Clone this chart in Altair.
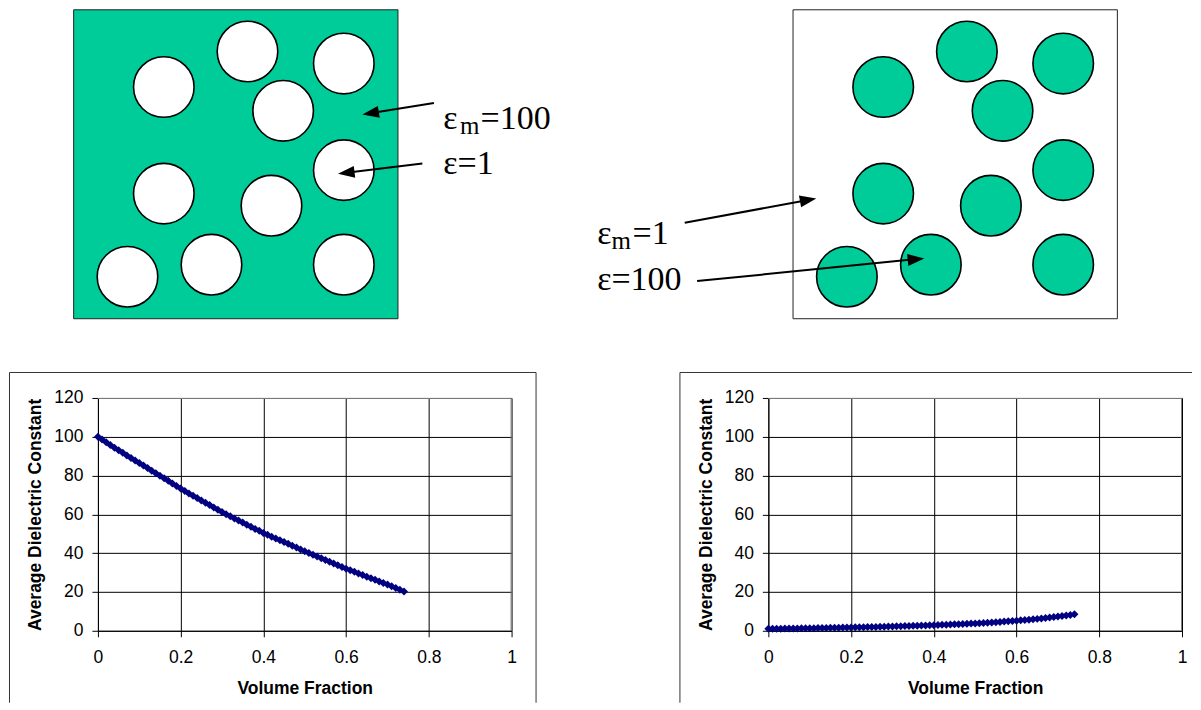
import math
import altair as alt
import pandas as pd

# ---------------- data ----------------
volume_fraction = [
    0.00, 0.01, 0.02, 0.03, 0.04, 0.05, 0.06, 0.07, 0.08, 0.09,
    0.10, 0.11, 0.12, 0.13, 0.14, 0.15, 0.16, 0.17, 0.18, 0.19,
    0.20, 0.21, 0.22, 0.23, 0.24, 0.25, 0.26, 0.27, 0.28, 0.29,
    0.30, 0.31, 0.32, 0.33, 0.34, 0.35, 0.36, 0.37, 0.38, 0.39,
    0.40, 0.41, 0.42, 0.43, 0.44, 0.45, 0.46, 0.47, 0.48, 0.49,
    0.50, 0.51, 0.52, 0.53, 0.54, 0.55, 0.56, 0.57, 0.58, 0.59,
    0.60, 0.61, 0.62, 0.63, 0.64, 0.65, 0.66, 0.67, 0.68, 0.69,
    0.70, 0.71, 0.72, 0.73, 0.74,
]

# matrix eps = 100, inclusions eps = 1
eps_avg_matrix100 = [
    100.0, 98.6, 97.2, 95.8, 94.4, 93.1, 91.7, 90.4, 89.1, 87.8,
    86.5, 85.2, 83.9, 82.5, 81.2, 79.9, 78.6, 77.3, 75.9, 74.6,
    73.3, 72.1, 70.8, 69.6, 68.4, 67.2, 66.0, 64.8, 63.6, 62.4,
    61.2, 60.1, 59.0, 57.9, 56.9, 55.8, 54.7, 53.6, 52.5, 51.5,
    50.4, 49.5, 48.5, 47.6, 46.6, 45.7, 44.8, 43.8, 42.9, 41.9,
    41.0, 40.1, 39.2, 38.3, 37.4, 36.5, 35.6, 34.7, 33.8, 32.9,
    32.0, 31.2, 30.4, 29.5, 28.7, 27.9, 27.1, 26.3, 25.4, 24.6,
    23.8, 22.9, 22.0, 21.1, 20.2,
]

# matrix eps = 1, inclusions eps = 100
eps_avg_matrix1 = [
    1.00, 1.03, 1.06, 1.09, 1.12, 1.15, 1.18, 1.22, 1.25, 1.29,
    1.33, 1.36, 1.40, 1.44, 1.48, 1.52, 1.56, 1.60, 1.64, 1.68,
    1.72, 1.76, 1.80, 1.85, 1.90, 1.95, 2.00, 2.05, 2.11, 2.17,
    2.23, 2.29, 2.35, 2.42, 2.49, 2.56, 2.63, 2.70, 2.77, 2.84,
    2.90, 2.98, 3.06, 3.14, 3.23, 3.32, 3.41, 3.50, 3.60, 3.70,
    3.80, 3.92, 4.04, 4.16, 4.29, 4.43, 4.57, 4.72, 4.87, 5.03,
    5.20, 5.37, 5.55, 5.74, 5.93, 6.13, 6.34, 6.56, 6.79, 7.04,
    7.30, 7.57, 7.86, 8.17, 8.50,
]

x_ticks = [0, 0.2, 0.4, 0.6, 0.8, 1]
y_ticks = [0, 20, 40, 60, 80, 100, 120]
x_title = "Volume Fraction"
y_title = "Average Dielectric Constant"

# inclusion centres inside each square (fraction of square width / height, y downward)
inclusion_u = [0.278, 0.536, 0.833, 0.646, 0.833, 0.278, 0.610, 0.833, 0.425, 0.166]
inclusion_v = [0.250, 0.135, 0.174, 0.327, 0.519, 0.595, 0.634, 0.825, 0.825, 0.864]

GREEN = "#00CC99"
NAVY = "#000080"

# ---------------- layout (page pixels) ----------------
C1X, C2X = 97, 768          # left edge of the two columns
R1Y, R2Y = 8, 397           # top edge of the two rows
W, H1, H2, SP = 414, 132, 233, 257
SQ_W = 324.6
SQ_TOP, SQ_BOT = 8.5, 317.7
CIRCLE_SIZE = 3672          # symbol size (diameter ~60.6px)


def one():
    return alt.Data(values=[{"k": 0}])


def hrule(cx, cy, x1, x2, y, color="#333333", sw=1):
    return alt.Chart(one()).mark_rule(color=color, strokeWidth=sw).encode(
        x=alt.value(x1 - cx), x2=alt.value(x2 - cx), y=alt.value(y - cy))


def vrule(cx, cy, x, y1, y2, color="#333333", sw=1):
    return alt.Chart(one()).mark_rule(color=color, strokeWidth=sw).encode(
        x=alt.value(x - cx), y=alt.value(y1 - cy), y2=alt.value(y2 - cy))


def arrow(cx, cy, tail, tip, r=8.3):
    dx, dy = tip[0] - tail[0], tip[1] - tail[1]
    L = math.hypot(dx, dy)
    ux, uy = dx / L, dy / L
    ang = math.degrees(math.atan2(ux, -uy)) % 360
    hx, hy = tip[0] - r * ux, tip[1] - r * uy
    ex, ey = tip[0] - 1.5 * r * ux, tip[1] - 1.5 * r * uy
    line = alt.Chart(one()).mark_rule(color="black", strokeWidth=2).encode(
        x=alt.value(tail[0] - cx), y=alt.value(tail[1] - cy),
        x2=alt.value(ex - cx), y2=alt.value(ey - cy))
    head = alt.Chart(one()).mark_point(
        shape="M0,-1L0.72,1L-0.72,1Z", filled=True, fill="black", strokeWidth=0,
        size=(2 * r) ** 2, angle=ang, opacity=1).encode(
        x=alt.value(hx - cx), y=alt.value(hy - cy))
    return [line, head]


def label(cx, cy, txt, x, y, size=34):
    return alt.Chart(one()).mark_text(
        text=txt, font="Liberation Serif", fontSize=size, align="left",
        baseline="alphabetic", color="black").encode(
        x=alt.value(x - cx), y=alt.value(y - cy))


incl_df = pd.DataFrame({"u": inclusion_u, "v": inclusion_v})


def diagram(cx, sq_left, bg, fg, extras):
    xs = alt.Scale(domain=[0, 1], range=[sq_left - cx, sq_left + SQ_W - cx])
    ys = alt.Scale(domain=[0, 1], range=[SQ_TOP - R1Y, SQ_BOT - R1Y])
    square = alt.Chart(alt.Data(values=[{"a": 0, "b": 1}])).mark_rect(
        fill=bg, stroke="#222222", strokeWidth=1).encode(
        x=alt.X("a:Q", scale=xs, axis=None), x2="b:Q",
        y=alt.Y("a:Q", scale=ys, axis=None), y2="b:Q")
    circles = alt.Chart(incl_df).mark_circle(
        fill=fg, stroke="black", strokeWidth=1.6, size=CIRCLE_SIZE,
        opacity=1, fillOpacity=1).encode(
        x=alt.X("u:Q", scale=xs, axis=None),
        y=alt.Y("v:Q", scale=ys, axis=None))
    return alt.layer(square, circles, *extras).properties(width=W, height=H1)


# top-left diagram: green matrix (eps_m = 100), white inclusions (eps = 1)
tl_extras = []
tl_extras += arrow(C1X, R1Y, (433.3, 101.7), (361.7, 113.3))
tl_extras += arrow(C1X, R1Y, (421.7, 162.3), (337.3, 172.7))
tl_extras += [
    label(C1X, R1Y, "ε", 442.7, 128.3),
    label(C1X, R1Y, "m", 459.5, 132.7, 25),
    label(C1X, R1Y, "=100", 480, 128.3),
    label(C1X, R1Y, "ε=1", 442.7, 173.3),
]
TL = diagram(C1X, 72.7, GREEN, "white", tl_extras)

# top-right diagram: white matrix (eps_m = 1), green inclusions (eps = 100)
tr_extras = []
tr_extras += arrow(C2X, R1Y, (684.3, 221.7), (816, 197.3))
tr_extras += [
    label(C2X, R1Y, "ε", 596.7, 243.3),
    label(C2X, R1Y, "m", 611, 247.7, 25),
    label(C2X, R1Y, "=1", 632, 243.3),
    label(C2X, R1Y, "ε=100", 596.7, 289.3),
]
TR = diagram(C2X, 792.7, "white", GREEN, [])
TR = alt.layer(TR, *tr_extras, *arrow(C2X, R1Y, (696.7, 280), (924, 257.3))).properties(width=W, height=H1)


def scatter(cx, values, box):
    df = pd.DataFrame({"vf": volume_fraction, "eps": values})
    pts = alt.Chart(df).mark_point(
        shape="diamond", filled=True, color=NAVY, size=64, opacity=1).encode(
        x=alt.X("vf:Q", scale=alt.Scale(domain=[0, 1], nice=False, zero=False),
                axis=alt.Axis(values=x_ticks, format="~g", title=x_title,
                              labelFlush=False, labelOverlap=False,
                              labelBaseline="alphabetic",
                              labelPadding=25.7, titleBaseline="alphabetic",
                              titleY=62.7)),
        y=alt.Y("eps:Q", scale=alt.Scale(domain=[0, 120], nice=False),
                axis=alt.Axis(values=y_ticks, title=y_title, labelPadding=9,
                              labelOverlap=False, labelFlush=False,
                              titleX=-62, titleY=H2 / 2, titleBaseline="middle")))
    # grey plot-area frame on the top and right edges
    top_edge = alt.Chart(one()).mark_rule(color="#808080", strokeWidth=1).encode(
        x=alt.value(0), x2=alt.value(W), y=alt.value(0.5))
    right_edge = alt.Chart(one()).mark_rule(color="#808080", strokeWidth=1).encode(
        x=alt.value(W - 0.5), y=alt.value(0), y2=alt.value(H2))
    return alt.layer(pts, top_edge, right_edge, *box).properties(width=W, height=H2)


bl_box = [
    vrule(C1X, R2Y, 8.5, 371.5, 702),
    vrule(C1X, R2Y, 535.5, 371.5, 702),
    hrule(C1X, R2Y, 8.5, 535.5, 371.5),
]
br_box = [
    vrule(C2X, R2Y, 679.5, 371.5, 702),
    hrule(C2X, R2Y, 679.5, 1192, 371.5),
]

BL = scatter(C1X, eps_avg_matrix100, bl_box)
BR = scatter(C2X, eps_avg_matrix1, br_box)

chart = alt.concat(
    TL, TR, BL, BR, columns=2, spacing=SP, align="each", bounds="flush"
).properties(
    padding=0, background="white"
).configure_view(
    stroke="transparent"
).configure_axis(
    labelFont="Liberation Sans", labelFontSize=17.5, labelColor="black",
    titleFont="Liberation Sans", titleFontSize=17.5, titleFontWeight="bold",
    titleColor="black", domainColor="black", tickColor="black", tickSize=6,
    gridColor="black", gridOpacity=1, gridWidth=1, domainWidth=1, tickWidth=1,
)

chart.save("out.html", embed_options={"renderer": "svg", "actions": False})
